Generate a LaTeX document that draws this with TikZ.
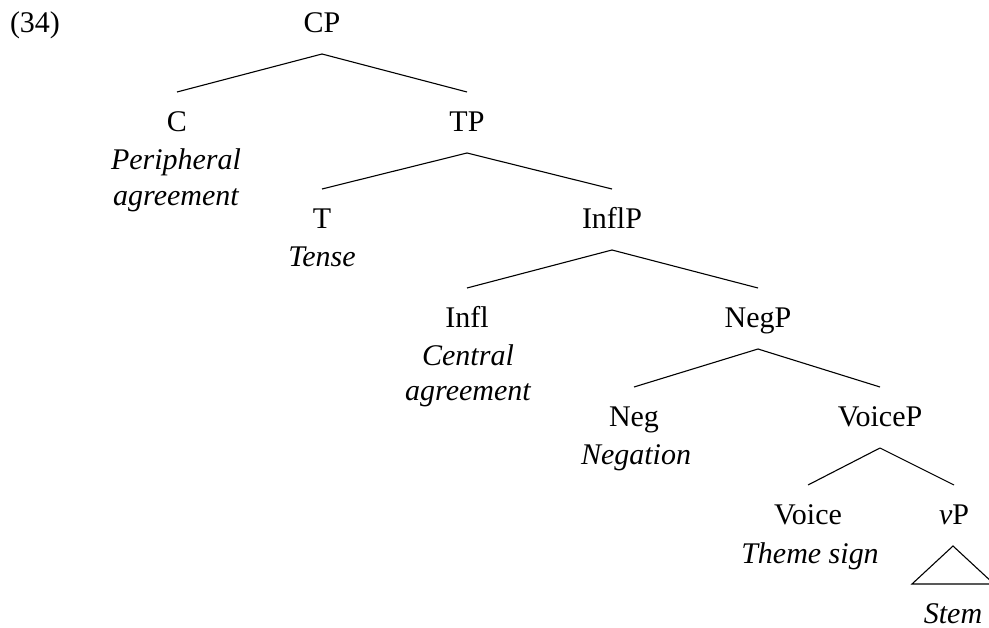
\documentclass[tikz,border=0pt]{standalone}
\usepackage{fontspec}
\setmainfont{Liberation Serif}
\usetikzlibrary{calc}
\begin{document}
\begin{tikzpicture}[x=1pt,y=-1pt,
  lbl/.style={anchor=base,inner sep=0pt,font=\fontsize{30}{36}\selectfont},
  cat/.style={lbl,text height=19pt,text depth=0pt,outer ysep=21pt},
  gloss/.style={lbl,font=\fontsize{30}{36}\selectfont\itshape},
  branch/.style={line width=1.1pt}]
\useasboundingbox (0,0) rectangle (989,628);

\node[lbl] (ex) at (35,33) {(34)};

% categories
\node[cat] (cp)     at (322,33)  {CP};
\node[cat] (c)      at (177,132) {C};
\node[cat] (tp)     at (467,132) {TP};
\node[cat] (t)      at (322,229) {T};
\node[cat] (inflp)  at (612,229) {InflP};
\node[cat] (infl)   at (467,328) {Infl};
\node[cat] (negp)   at (758,328) {NegP};
\node[cat] (neg)    at (634,427) {Neg};
\node[cat] (voicep) at (880,427) {VoiceP};
\node[cat] (voice)  at (808,525) {Voice};
\node[cat] (vp)     at (954,525) {\textit{v}P};

% glosses
\node[gloss] (cg1) at (176,170) {Peripheral};
\node[gloss] (cg2) at (176,206) {agreement};
\node[gloss] (tg)  at (322,267) {Tense};
\node[gloss] (ig1) at (468,366) {Central};
\node[gloss] (ig2) at (468,401) {agreement};
\node[gloss] (ng)  at (636,465) {Negation};
\node[gloss] (vg)  at (810,563) {Theme sign};
\node[gloss] (sg)  at (953,623) {Stem};

% branches
\draw[branch] (cp.south) -- (c.north);
\draw[branch] (cp.south) -- (tp.north);
\draw[branch] (tp.south) -- (t.north);
\draw[branch] (tp.south) -- (inflp.north);
\draw[branch] (inflp.south) -- (infl.north);
\draw[branch] (inflp.south) -- (negp.north);
\draw[branch] (negp.south) -- (neg.north);
\draw[branch] (negp.south) -- (voicep.north);
\draw[branch] (voicep.south) -- (voice.north);
\draw[branch] (voicep.south) -- (vp.north);

% roof over vP
\coordinate (roof) at ($(vp.south)+(-1,0)$);
\draw[branch] (roof) -- ++(-41,38) -- ++(82,0) -- cycle;
\end{tikzpicture}
\end{document}
